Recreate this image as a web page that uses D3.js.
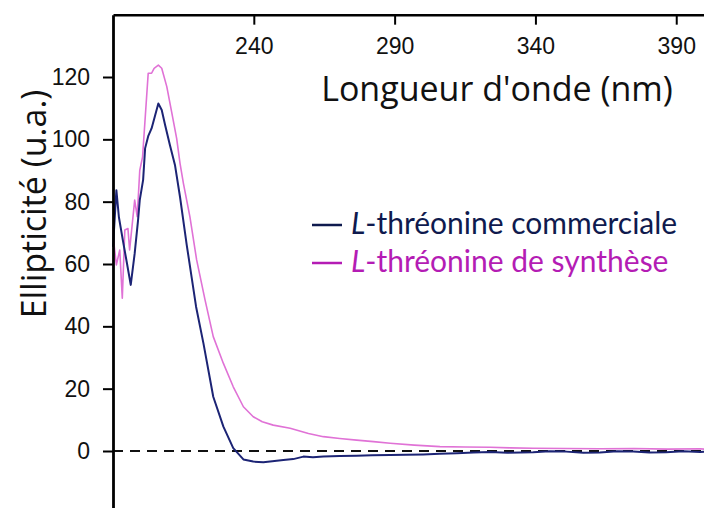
<!DOCTYPE html>
<html>
<head>
<meta charset="utf-8">
<script src="https://cdn.jsdelivr.net/npm/d3@7"></script>
<style>
  html, body { margin: 0; padding: 0; background: #fff; }
  svg { display: block; }
</style>
</head>
<body>
<svg id="chart" width="704" height="508"></svg>
<script>
// Circular dichroism spectra of L-threonine (wavelength in nm, ellipticity in a.u.)
const commercialNm = [190.0, 191.2, 192.1, 193.6, 195.0, 196.3, 197.7, 198.9, 199.5, 200.7, 201.4, 202.5, 203.7, 204.9, 206.1, 207.3, 208.5, 210.2, 212.0, 213.8, 216.2, 217.9, 219.5, 222.1, 225.6, 229.2, 232.7, 236.3, 239.8, 243.4, 250.5, 254.0, 257.6, 261.0, 264.7, 270.5, 276.5, 282.0, 288.4, 294.0, 300.2, 306.0, 312.1, 318.0, 323.9, 330.0, 339.2, 345.0, 350.9, 357.0, 362.9, 369.0, 374.7, 380.5, 386.4, 392.5, 398.5, 400.0];
const commercialVal = [65.5, 83.7, 75.0, 67.1, 60.0, 53.3, 63.4, 74.1, 80.5, 87.0, 97.1, 101.0, 103.5, 107.5, 111.5, 109.4, 104.6, 98.2, 91.8, 81.5, 66.0, 55.9, 46.3, 34.6, 17.4, 7.8, 0.9, -2.7, -3.4, -3.6, -2.9, -2.6, -1.8, -2.0, -1.8, -1.6, -1.5, -1.4, -1.3, -1.2, -1.1, -0.9, -0.7, -0.5, -0.3, -0.6, -0.4, -0.1, -0.2, -0.6, -0.5, -0.1, -0.2, -0.5, -0.4, -0.1, -0.3, -0.2];

const syntheseNm = [190.0, 190.4, 191.2, 192.4, 193.3, 194.2, 195.3, 195.9, 197.7, 198.6, 199.5, 200.5, 202.5, 203.7, 204.6, 206.1, 207.3, 209.1, 210.8, 212.6, 213.8, 215.0, 217.3, 219.7, 222.7, 225.6, 229.2, 232.7, 236.3, 239.8, 243.0, 246.9, 252.9, 259.4, 264.7, 270.5, 276.5, 282.5, 288.4, 297.0, 306.1, 315.0, 323.9, 331.0, 339.2, 351.0, 362.9, 375.0, 387.0, 398.5, 400.0];
const syntheseVal = [72.0, 66.0, 59.7, 64.5, 49.0, 70.9, 71.4, 64.5, 80.5, 75.2, 90.0, 94.4, 121.2, 121.2, 122.8, 123.8, 122.8, 116.9, 108.9, 100.3, 92.3, 85.9, 75.2, 61.3, 48.4, 36.7, 28.1, 20.6, 14.2, 11.0, 9.4, 8.3, 7.3, 5.6, 4.6, 4.0, 3.5, 3.0, 2.5, 1.9, 1.4, 1.3, 1.2, 1.0, 0.9, 0.8, 0.7, 0.8, 0.6, 0.7, 0.6];

const xTicks = [240, 290, 340, 390];
const yTicks = [0, 20, 40, 60, 80, 100, 120];

const seriesNames = ["L-thréonine commerciale", "L-thréonine de synthèse"];
const curveColors = ["#1c2475", "#e072d6"];
const textColors = ["#0f1a4e", "#b41cb4"];

const svg = d3.select("#chart");

const x = d3.scaleLinear().domain([190, 400]).range([113, 704.4]);
const y = d3.scaleLinear().domain([0, 120]).range([451, 77]);

const sans = "'Liberation Sans', Arial, sans-serif";
const titleFont = "'Segoe UI', 'Open Sans', 'Noto Sans', sans-serif";

// zero reference line
svg.append("line")
  .attr("x1", x(190)).attr("x2", x(400))
  .attr("y1", y(0)).attr("y2", y(0))
  .attr("stroke", "#111").attr("stroke-width", 2)
  .attr("stroke-dasharray", "10,7");

// spectra
const line = d3.line().x(d => x(d[0])).y(d => y(d[1]));
const series = [
  d3.zip(commercialNm, commercialVal),
  d3.zip(syntheseNm, syntheseVal)
];
// synthetic sample underneath, commercial sample on top
[1, 0].forEach(i => {
  svg.append("path")
    .datum(series[i])
    .attr("fill", "none")
    .attr("stroke", curveColors[i])
    .attr("stroke-width", i === 0 ? 2 : 1.6)
    .attr("stroke-linejoin", "round")
    .attr("d", line);
});

// wavelength axis along the top, ticks pointing inward
const xAxis = svg.append("g")
  .attr("transform", `translate(0,${y(140)})`)
  .call(d3.axisBottom(x).tickValues(xTicks).tickSize(10).tickSizeOuter(0).tickPadding(13));
xAxis.select(".domain").attr("stroke", "#000").attr("stroke-width", 2.5);
xAxis.selectAll(".tick line").attr("stroke", "#000").attr("stroke-width", 2);
xAxis.selectAll(".tick text").attr("font-family", sans).attr("font-size", 23).attr("fill", "#111");

// ellipticity axis
const yAxis = svg.append("g")
  .attr("transform", `translate(${x(190)},0)`)
  .call(d3.axisLeft(y.copy().domain([-20, 140]).range([y(-20), y(140)])).tickValues(yTicks).tickSize(10).tickSizeOuter(0).tickPadding(13));
yAxis.select(".domain").attr("stroke", "#000").attr("stroke-width", 2.8);
yAxis.selectAll(".tick line").attr("stroke", "#000").attr("stroke-width", 2);
yAxis.selectAll(".tick text").attr("font-family", sans).attr("font-size", 23).attr("fill", "#111");

// axis titles
svg.append("text")
  .attr("x", 497).attr("y", 101)
  .attr("text-anchor", "middle")
  .attr("font-family", titleFont).attr("font-size", 34)
  .attr("fill", "#111")
  .text("Longueur d'onde (nm)");

svg.append("text")
  .attr("transform", "translate(46,204) rotate(-90)")
  .attr("text-anchor", "middle")
  .attr("font-family", titleFont).attr("font-size", 34)
  .attr("fill", "#111")
  .text("Ellipticité (u.a.)");

// legend
const legend = svg.append("g");
const legendRows = [225, 263];
seriesNames.forEach((name, i) => {
  const ly = legendRows[i];
  legend.append("line")
    .attr("x1", 312).attr("x2", 342)
    .attr("y1", ly).attr("y2", ly)
    .attr("stroke", textColors[i]).attr("stroke-width", 2.5);
  const t = legend.append("text")
    .attr("x", 351).attr("y", ly + 9)
    .attr("font-family", "Lato, 'Open Sans', sans-serif").attr("font-size", 30)
    .attr("fill", textColors[i]);
  t.append("tspan").attr("font-style", "italic").text(name.slice(0, 1));
  t.append("tspan").text(name.slice(1));
});
</script>
</body>
</html>
